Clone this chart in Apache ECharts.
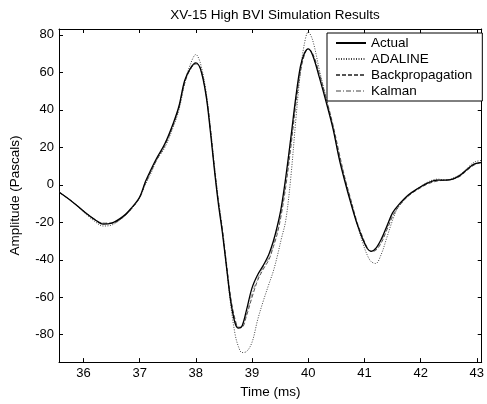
<!DOCTYPE html>
<html>
<head>
<meta charset="utf-8">
<script src="https://cdn.jsdelivr.net/npm/echarts@6/dist/echarts.min.js"></script>
<style>
html,body{margin:0;padding:0;background:#fff;}
#chart{width:487px;height:404px;}
</style>
</head>
<body>
<div id="chart"></div>
<script>
var title = 'XV-15 High BVI Simulation Results';
var xName = 'Time (ms)';
var yName = 'Amplitude (Pascals)';
var xTicks = [36, 37, 38, 39, 40, 41, 42, 43];
var yTicks = [-80, -60, -40, -20, 0, 20, 40, 60, 80];
var seriesNames = ['Actual', 'ADALINE', 'Backpropagation', 'Kalman'];

var time = [35.57, 35.8, 36.0, 36.2, 36.35, 36.5, 36.7, 36.85, 37.0, 37.1, 37.2, 37.3, 37.45, 37.6, 37.7, 37.8, 37.9, 38.0, 38.08, 38.18,
  38.26, 38.33, 38.4, 38.47, 38.55, 38.62, 38.7, 38.76, 38.82, 38.9, 39.0, 39.1, 39.2, 39.3, 39.38, 39.45, 39.52, 39.6, 39.69, 39.78,
  39.86, 39.93, 40.0, 40.08, 40.2, 40.32, 40.44, 40.55, 40.65, 40.75, 40.87, 40.97, 41.05, 41.12, 41.2, 41.3, 41.4, 41.5, 41.6, 41.78,
  41.95, 42.13, 42.3, 42.45, 42.57, 42.7, 42.8, 42.95, 43.09];

var actual = [-4, -9, -14, -18.5, -21, -20.5, -17, -12.5, -6.5, 1.5, 8, 14, 22, 33, 42, 55.5, 62, 65, 62, 48,
  28, 8, -10, -25, -45, -62, -74, -76.5, -75.5, -67, -55, -48, -43, -37, -30, -22, -12, 4, 25, 47,
  63, 70, 72.5, 69, 57, 44, 30, 14, 2, -9, -21, -29, -34, -35.5, -34, -29, -22, -15, -11, -5.5,
  -2, 1, 2.5, 2.5, 3, 5, 7.5, 11, 12];

var adaline = [-4, -9, -14.5, -19.5, -22, -21.5, -17.5, -13, -7, 0, 6, 13, 20, 31, 40, 54, 64, 69.5, 65, 50,
  30, 10, -8, -24, -45, -64, -80, -86.5, -89.5, -89, -84, -72, -62, -53, -46, -38, -29, -19, 4, 35,
  60, 75, 81.5, 77, 61, 46, 31, 15, 3, -8, -21, -31, -37.5, -41, -42, -37, -28, -19, -12, -6,
  -2, 1.5, 3, 2.5, 3.5, 5.5, 8, 12, 13];

var backprop = [-4, -9, -14, -18.5, -20.5, -20.5, -17.5, -13, -7, 0.5, 7, 13, 21, 32, 41, 54, 61.5, 64.5, 62.5, 49,
  30, 10, -8, -23, -43, -60, -72, -76, -76, -70, -60, -51, -45, -40, -33, -26, -16, -1, 20, 43,
  60, 69, 72.5, 70, 59, 46, 32, 17, 4, -7, -20, -28, -33.5, -35.5, -35, -31, -24, -17, -12, -6,
  -2.5, 0.5, 2, 2.5, 3, 4.5, 7, 10.5, 12];

var kalman = [-4, -9, -14, -18.5, -20.5, -20.5, -17.5, -13, -7, 1, 7, 13.5, 21.5, 32.5, 41.5, 55, 61.5, 64.5, 62, 48.5,
  29, 9, -9, -24, -44, -61, -73, -76, -75.5, -69, -58, -50, -44, -39, -32, -24, -14, 1, 22, 45,
  61, 69.5, 72.5, 69.5, 58, 45, 31, 15.5, 3, -8, -20.5, -28.5, -33.5, -35.5, -34.5, -30, -23, -16, -11.5, -6,
  -2, 1, 2.5, 2.5, 3, 5, 7.5, 11, 12];

function pairs(vals) {
  return time.map(function (t, i) { return [t, vals[i]]; });
}

var font = 'Liberation Sans, Arial, Helvetica, sans-serif';
var chart = echarts.init(document.getElementById('chart'), null, {renderer: 'canvas'});

var axisCommon = {
  type: 'value',
  axisLine: {show: true, onZero: false, lineStyle: {color: '#000', width: 1}},
  splitLine: {show: false}
};

function mkSeries(name, vals, color, type, width, z) {
  return {
    name: name,
    type: 'line',
    data: pairs(vals),
    smooth: 0.35,
    symbol: 'none',
    z: z,
    lineStyle: {color: color, width: width, type: type},
    itemStyle: {color: 'rgba(0,0,0,0)', borderWidth: 0},
    emphasis: {disabled: true},
    animation: false
  };
}

chart.setOption({
  animation: false,
  backgroundColor: '#fff',
  title: {
    text: title,
    left: 270,
    textAlign: 'center',
    top: 3,
    textStyle: {fontFamily: font, fontSize: 13.5, fontWeight: 'normal', color: '#000'}
  },
  grid: {left: 53, right: 2, top: 29, bottom: 34, show: false},
  legend: {
    orient: 'vertical',
    left: 327,
    top: 33,
    padding: [3, 10, 3, 8],
    itemGap: 2,
    itemWidth: 30,
    itemHeight: 14,
    itemTextGap: 5,
    backgroundColor: '#fff',
    borderColor: '#000',
    borderWidth: 1,
    borderRadius: 0,
    itemStyle: {opacity: 0},
    textStyle: {fontFamily: font, fontSize: 13.5, color: '#000'},
    data: seriesNames
  },
  xAxis: [
    Object.assign({}, axisCommon, {
      position: 'bottom',
      min: 35.565, max: 43.087,
      name: xName, nameLocation: 'middle', nameGap: 20,
      nameTextStyle: {fontFamily: font, fontSize: 13.5, color: '#000'},
      axisTick: {show: true, inside: true, length: 4, lineStyle: {color: '#000'}, customValues: xTicks},
      axisLabel: {fontFamily: font, fontSize: 13, color: '#000', margin: 5, customValues: xTicks}
    }),
    Object.assign({}, axisCommon, {
      position: 'top',
      min: 35.565, max: 43.087,
      axisTick: {show: true, inside: true, length: 4, lineStyle: {color: '#000'}, customValues: xTicks},
      axisLabel: {show: false}
    })
  ],
  yAxis: [
    Object.assign({}, axisCommon, {
      position: 'left',
      min: -94.6, max: 83.1,
      name: yName, nameLocation: 'middle', nameGap: 37, nameRotate: 90,
      nameTextStyle: {fontFamily: font, fontSize: 13.5, color: '#000'},
      axisTick: {show: true, inside: true, length: 4, lineStyle: {color: '#000'}, customValues: yTicks},
      axisLabel: {fontFamily: font, fontSize: 13, color: '#000', margin: 5, customValues: yTicks}
    }),
    Object.assign({}, axisCommon, {
      position: 'right',
      min: -94.6, max: 83.1,
      axisTick: {show: true, inside: true, length: 4, lineStyle: {color: '#000'}, customValues: yTicks},
      axisLabel: {show: false}
    })
  ],
  series: [
    mkSeries('Kalman', kalman, '#a0a0a0', [5, 2, 1, 2], 1, 2),
    mkSeries('Backpropagation', backprop, '#555', [4, 2], 1, 3),
    mkSeries('ADALINE', adaline, '#444', [1, 1.5], 1, 4),
    mkSeries('Actual', actual, '#000', 'solid', 1.3, 5)
  ]
});
</script>
</body>
</html>
